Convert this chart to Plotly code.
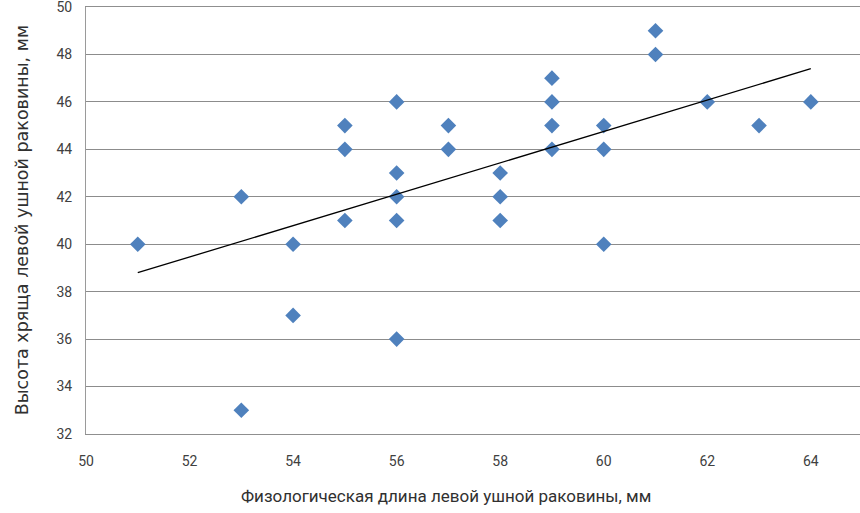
import plotly.graph_objects as go

# Physiological length of the left auricle (mm) vs. cartilage height (mm)
length_mm = [51, 53, 53, 54, 54, 55, 55, 55, 56, 56, 56, 56, 56, 57, 57,
             58, 58, 58, 59, 59, 59, 59, 60, 60, 60, 61, 61, 62, 63, 64]
height_mm = [40, 42, 33, 40, 37, 45, 44, 41, 46, 43, 42, 41, 36, 45, 44,
             43, 42, 41, 47, 46, 45, 44, 45, 44, 40, 49, 48, 46, 45, 46]

# Linear trend line end points
trend_x = [51, 64]
trend_y = [38.8, 47.4]

x_ticks = [50, 52, 54, 56, 58, 60, 62, 64]
y_ticks = [32, 34, 36, 38, 40, 42, 44, 46, 48, 50]

fig = go.Figure()
fig.add_trace(go.Scatter(
    x=length_mm, y=height_mm, mode="markers",
    marker=dict(symbol="diamond", size=12, color="#4F81BD",
                line=dict(width=0)),
    showlegend=False, hoverinfo="x+y"))
fig.add_trace(go.Scatter(
    x=trend_x, y=trend_y, mode="lines",
    line=dict(color="#000000", width=1.3),
    showlegend=False, hoverinfo="skip"))

tick_font = dict(family="Roboto, sans-serif", size=14, color="#404040")

# mirror=True on x gives the top rule at y = 50 (the edge gridline is not drawn)
fig.update_xaxes(range=[50, 64.95], tickvals=x_ticks, ticktext=[str(v) for v in x_ticks],
                 showgrid=False, zeroline=False, showline=True, mirror=True,
                 linecolor="#8f8f8f", linewidth=1, ticks="", tickfont=tick_font,
                 ticklabelstandoff=14, ticklabeloverflow="allow")
fig.update_yaxes(range=[32, 50], tickvals=y_ticks, ticktext=[str(v) for v in y_ticks],
                 showgrid=True, gridcolor="#8c8c8c", gridwidth=1, zeroline=False,
                 showline=True, linecolor="#9a9a9a", linewidth=1, ticks="",
                 tickfont=tick_font, ticklabelstandoff=10, ticklabeloverflow="allow")

fig.add_annotation(text="Физологическая длина левой ушной раковины, мм",
                   xref="paper", yref="paper", x=0.465, y=-0.145,
                   xanchor="center", yanchor="middle", showarrow=False,
                   font=dict(family="Roboto, sans-serif", size=17, color="#303030"))
fig.add_annotation(text="Высота хряща левой ушной раковины, мм",
                   xref="paper", yref="paper", x=-0.083, y=0.5,
                   xanchor="center", yanchor="middle", showarrow=False, textangle=-90,
                   font=dict(family="DejaVu Sans, sans-serif", size=17.5, color="#303030"))

fig.update_layout(width=860, height=513, margin=dict(l=86, r=0, t=7, b=79),
                  paper_bgcolor="white", plot_bgcolor="white")

fig.write_html("out.html")
